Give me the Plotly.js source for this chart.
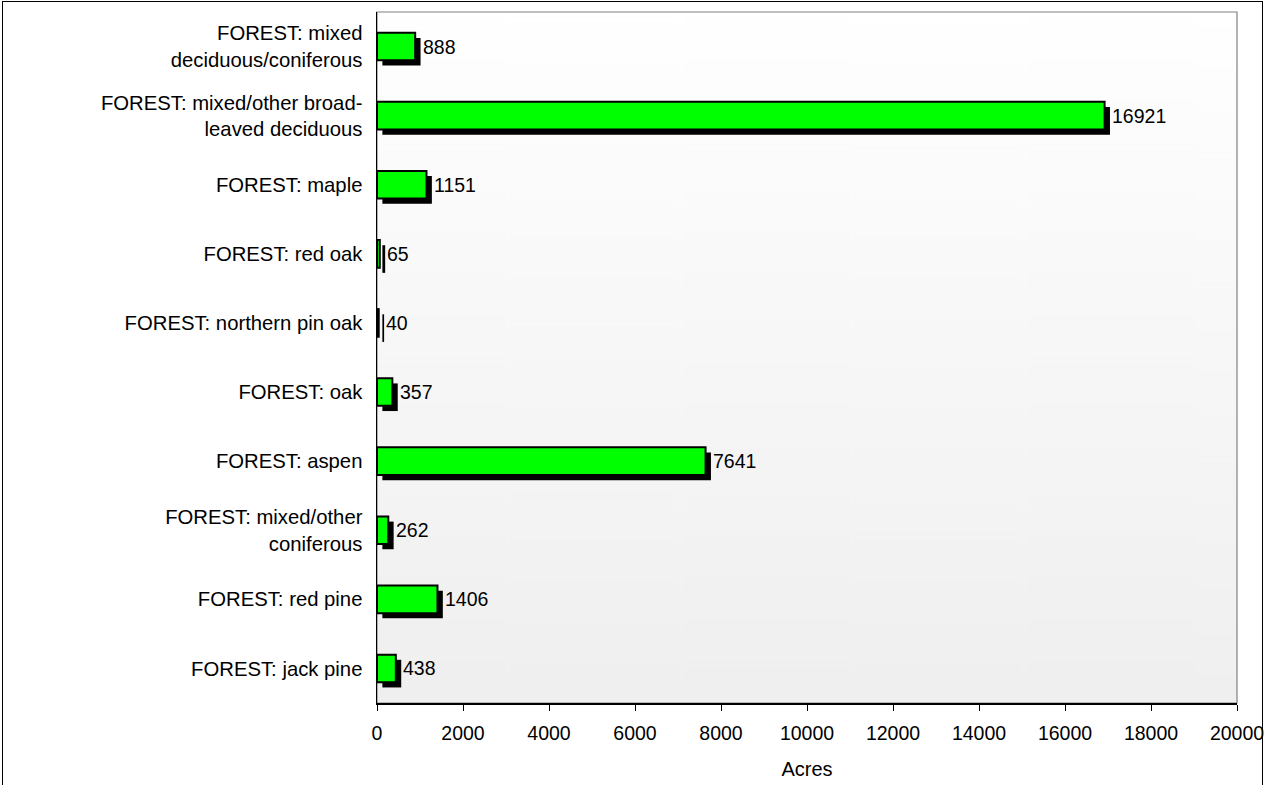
<!DOCTYPE html>
<html>
<head>
<meta charset="utf-8">
<script src="https://cdn.plot.ly/plotly-3.0.1.min.js"></script>
<style>
html,body{margin:0;padding:0;background:#fff;overflow:hidden;}
#frame{position:absolute;left:2px;top:1px;width:1261px;height:820px;border:1.5px solid #000;box-sizing:border-box;}
#chart{position:absolute;left:0;top:0;width:1267px;height:785px;}
</style>
</head>
<body>
<div id="frame"></div>
<div id="chart"></div>
<script>
// Categories, top to bottom
var categories = [
  "FOREST: mixed<br>deciduous/coniferous",
  "FOREST: mixed/other broad-<br>leaved deciduous",
  "FOREST: maple",
  "FOREST: red oak",
  "FOREST: northern pin oak",
  "FOREST: oak",
  "FOREST: aspen",
  "FOREST: mixed/other<br>coniferous",
  "FOREST: red pine",
  "FOREST: jack pine"
];
var acres = [888, 16921, 1151, 65, 40, 357, 7641, 262, 1406, 438];
var xTicks = [0, 2000, 4000, 6000, 8000, 10000, 12000, 14000, 16000, 18000, 20000];

// gradient background image for plot area
var cv = document.createElement('canvas');
cv.width = 10; cv.height = 400;
var ctx = cv.getContext('2d');
var g = ctx.createLinearGradient(0, 0, 0, 400);
g.addColorStop(0, '#ffffff');
g.addColorStop(1, '#efefef');
ctx.fillStyle = g;
ctx.fillRect(0, 0, 10, 400);
var bgURL = cv.toDataURL('image/png');

var shadowShiftX = 125;   // acres, ~5px
var barW = 0.4;
var shadowShiftY = 0.075; // category units, ~5px
var FONT = 'Liberation Sans, Arial, sans-serif';

var shadow = {
  type: 'bar', orientation: 'h',
  y: categories, x: acres,
  base: shadowShiftX,
  width: barW, offset: -barW/2 + shadowShiftY,
  marker: {color: '#000000', line: {width: 0}},
  hoverinfo: 'skip', showlegend: false
};
var main = {
  type: 'bar', orientation: 'h',
  y: categories, x: acres,
  width: barW, offset: -barW/2,
  marker: {color: '#00ff00', line: {color: '#000000', width: 2}},
  showlegend: false
};

var annotations = acres.map(function(v, i){
  return {
    x: v + shadowShiftX, y: categories[i], xref: 'x', yref: 'y',
    text: String(v), showarrow: false, xanchor: 'left', xshift: 0,
    font: {family: FONT, size: 19.5, color: '#000'}
  };
});

var layout = {
  width: 1267, height: 785,
  margin: {l: 377, r: 30, t: 12, b: 82},
  paper_bgcolor: 'rgba(0,0,0,0)',
  plot_bgcolor: 'rgba(0,0,0,0)',
  barmode: 'overlay',
  font: {family: FONT, size: 20, color: '#000'},
  xaxis: {
    range: [0, 20000], tickvals: xTicks, ticktext: xTicks.map(String),
    showgrid: false, zeroline: false,
    showline: true, linecolor: '#000', linewidth: 1.5,
    ticks: 'outside', ticklen: 6, tickcolor: '#000', tickwidth: 1,
    ticklabelstandoff: 6,
    tickfont: {size: 19.5},
    title: {text: 'Acres', font: {size: 20}, standoff: 19},
    fixedrange: true
  },
  yaxis: {
    categoryorder: 'array', categoryarray: categories,
    autorange: 'reversed',
    showgrid: false, zeroline: false,
    showline: true, linecolor: '#000', linewidth: 1.5,
    ticks: '', ticklabelstandoff: 9,
    tickfont: {size: 20.3},
    fixedrange: true
  },
  images: [{
    source: bgURL, xref: 'paper', yref: 'paper', x: 0, y: 1,
    sizex: 1, sizey: 1, sizing: 'stretch', layer: 'below',
    xanchor: 'left', yanchor: 'top'
  }],
  shapes: [{
    type: 'rect', xref: 'paper', yref: 'paper', x0: 0, x1: 1, y0: 0, y1: 1,
    line: {color: '#808080', width: 1.2}, layer: 'below'
  }],
  annotations: annotations
};

Plotly.newPlot('chart', [shadow, main], layout, {displayModeBar: false, staticPlot: true});
</script>
</body>
</html>
